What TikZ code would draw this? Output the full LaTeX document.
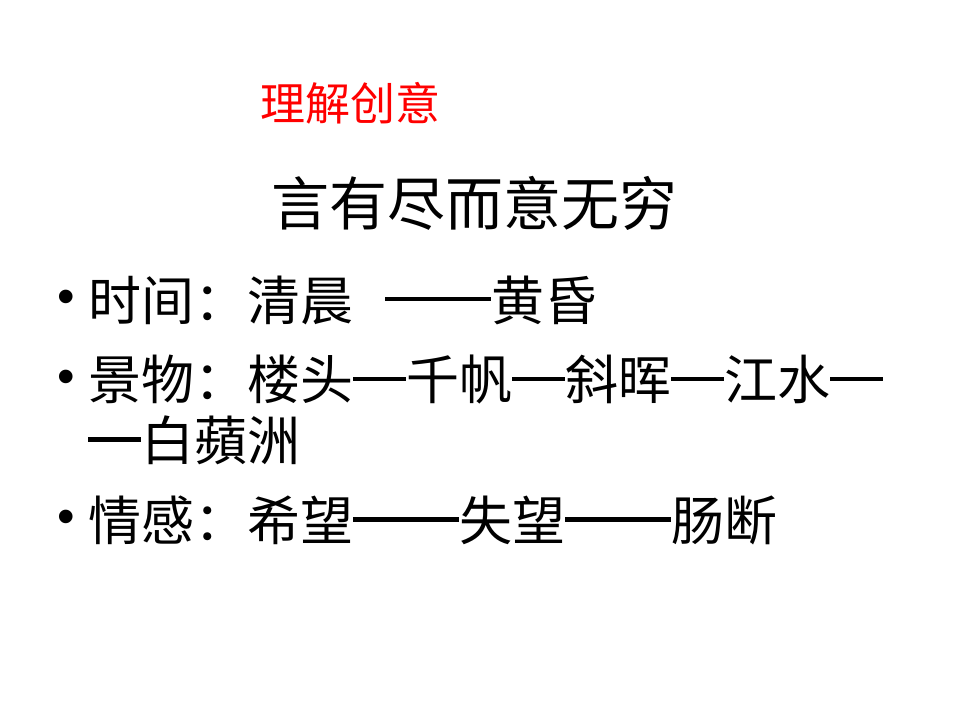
\documentclass[tikz,border=0pt]{standalone}
\usepackage{fontspec}
\setmainfont{Liberation Sans}
\newfontfamily\cjk{Noto Sans CJK SC}
\newcommand{\dsh}{\rule[0.35em]{1em}{0.09em}}
\begin{document}
\begin{tikzpicture}[x=1pt,y=-1pt,
  txt/.style={anchor=west,inner sep=0pt,font=\cjk\fontsize{53}{53}\selectfont},
  bul/.style={anchor=center,inner sep=0pt,font=\fontsize{50}{50}\selectfont}]
\useasboundingbox[fill=white] (0,0) rectangle (960,720);
\node[anchor=center,inner sep=0pt,text=red,font=\cjk\fontsize{45}{45}\selectfont] (t) at (350,103) {理解创意};
\node[anchor=center,inner sep=0pt,font=\cjk\fontsize{58}{58}\selectfont] (h) at (474,203) {言有尽而意无穷};
\node[bul] (b1) at (66,302) {•};
\node[txt] (l1) at (88,300) {时间：清晨\hspace{0.6em}\dsh\dsh 黄昏};
\node[bul] (b2) at (66,382) {•};
\node[txt] (l2) at (88,380) {景物：楼头\dsh 千帆\dsh 斜晖\dsh 江水\dsh};
\node[txt] (l3) at (88,440) {\dsh 白蘋洲};
\node[bul] (b3) at (66,522) {•};
\node[txt] (l4) at (88,520) {情感：希望\dsh\dsh 失望\dsh\dsh 肠断};
\end{tikzpicture}
\end{document}
